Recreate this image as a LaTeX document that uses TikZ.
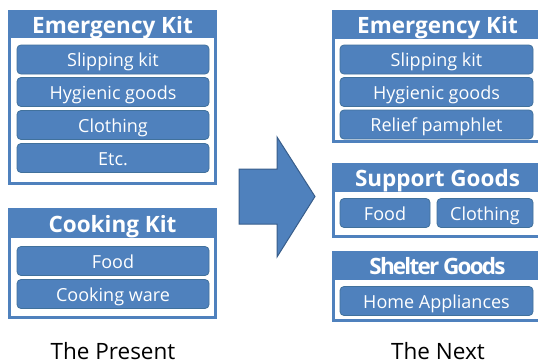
\documentclass[tikz,border=0pt]{standalone}
\usepackage{fontspec}
\setmainfont{Open Sans}
\usepackage{xcolor}
\usepackage{tikz}
\usetikzlibrary{positioning}
\definecolor{kitblue}{HTML}{4F81BD}
\definecolor{kitline}{HTML}{41719C}
\definecolor{arrowline}{HTML}{385D8A}
\tikzstyle{kitframe}=[rectangle,draw=kitblue,line width=3pt,fill=white,inner sep=0pt]
\tikzstyle{kithead}=[rectangle,fill=kitblue,text=white,inner sep=0pt,text height=18.5pt,text depth=0pt,font=\fontsize{22.5}{22.5}\selectfont\bfseries]
\tikzstyle{item}=[rectangle,rounded corners=4pt,draw=kitline,line width=0.8pt,fill=kitblue,text=white,inner sep=0pt,minimum height=29pt,text height=14pt,text depth=0pt,font=\fontsize{18}{18}\selectfont]
\tikzstyle{caption}=[anchor=base,inner sep=0pt,font=\fontsize{22.5}{22.5}\selectfont]
\tikzstyle{bigarrow}=[draw=arrowline,fill=kitblue,line width=1pt,line join=miter]

\begin{document}
\begin{tikzpicture}[x=1pt,y=-1pt]

 \useasboundingbox (0,0) rectangle (538,364);

 %The Present
 \node[kitframe,minimum width=206pt,minimum height=172pt] (emnow) at (112.5,97.5) {};
 \node[kithead,minimum width=209pt,minimum height=28pt] (emnowhead) at (112.5,24) {Emergency Kit};

   \foreach \y/\name/\label in {59.5/slipnow/Slipping kit, 92/hygnow/Hygienic goods, 125/clothnow/Clothing, 158/etcnow/Etc.}
          \node[item,minimum width=192pt] (\name) at (113,\y) {\label};

 \node[kitframe,minimum width=206pt,minimum height=108pt] (cook) at (112.5,263.5) {};
 \node[kithead,minimum width=209pt,minimum height=30pt] (cookhead) at (112.5,223) {Cooking Kit};

   \foreach \y/\name/\label in {261/foodnow/Food, 294/warenow/Cooking ware}
          \node[item,minimum width=192pt] (\name) at (113,\y) {\label};

 \node[caption] (present) at (113,359) {The Present};

 %arrow
 \draw[bigarrow] (239,169) -- (277,169) -- (277,137) -- (315,196.5) -- (277,257) -- (277,224) -- (239,224) -- cycle;

 %The Next
 \node[kitframe,minimum width=207.5pt,minimum height=130pt] (emnext) at (437.25,76.5) {};
 \node[kithead,minimum width=211pt,minimum height=29pt] (emnexthead) at (437.5,24.5) {Emergency Kit};

   \foreach \y/\name/\label in {59.5/slipnext/Slipping kit, 92/hygnext/Hygienic goods, 124.5/pamphlet/Relief pamphlet}
          \node[item,minimum width=193pt] (\name) at (436.5,\y) {\label};

 \node[kitframe,minimum width=207.5pt,minimum height=72pt] (support) at (437.25,200.5) {};
 \node[kithead,minimum width=211pt,minimum height=29pt] (supporthead) at (437.5,177.5) {Support Goods};

   \foreach \x/\w/\name/\label in {385/90/foodnext/Food, 485/96/clothnext/Clothing}
          \node[item,minimum width=\w pt] (\name) at (\x,213) {\label};

 \node[kitframe,minimum width=207.5pt,minimum height=68pt] (shelter) at (437.25,286.5) {};
 \node[kithead,minimum width=211pt,minimum height=29pt] (shelterhead) at (437.5,265.5) {\addfontfeature{LetterSpace=-8}Shelter Goods};

 \node[item,minimum width=193pt] (appliance) at (436.5,301) {Home Appliances};

 \node[caption] (next) at (438,359) {The Next};

\end{tikzpicture}
\end{document}
